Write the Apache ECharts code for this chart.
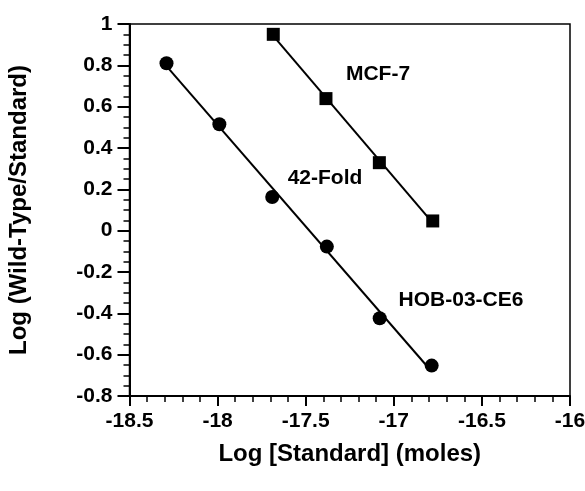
<!DOCTYPE html>
<html>
<head>
<meta charset="utf-8">
<script src="https://cdn.jsdelivr.net/npm/echarts@6/dist/echarts.min.js"></script>
<style>html,body{margin:0;padding:0;background:#fff}#c{width:585px;height:491px}</style>
</head>
<body>
<div id="c"></div>
<script>
// Data
var hobX = [-18.29, -17.99, -17.69, -17.38, -17.08, -16.785];
var hobY = [0.81, 0.515, 0.163, -0.077, -0.424, -0.653];
var mcfX = [-17.684, -17.385, -17.082, -16.779];
var mcfY = [0.95, 0.639, 0.329, 0.047];
var annotations = ['MCF-7', '42-Fold', 'HOB-03-CE6'];
var xTitle = 'Log [Standard] (moles)';
var yTitle = 'Log (Wild-Type/Standard)';

function pairs(xs, ys){ return xs.map(function(x,i){ return [x, ys[i]]; }); }
function fit(xs, ys){
  var n = xs.length, sx=0, sy=0, sxx=0, sxy=0;
  for (var i=0;i<n;i++){ sx+=xs[i]; sy+=ys[i]; sxx+=xs[i]*xs[i]; sxy+=xs[i]*ys[i]; }
  var b = (n*sxy - sx*sy)/(n*sxx - sx*sx);
  var a = (sy - b*sx)/n;
  var x0 = Math.min.apply(null, xs), x1 = Math.max.apply(null, xs);
  return [[x0, a+b*x0],[x1, a+b*x1]];
}

var FONT = '"Liberation Sans", Arial, Helvetica, sans-serif';
var chart = echarts.init(document.getElementById('c'), null, {renderer:'canvas'});
chart.setOption({
  animation: false,
  backgroundColor: '#fff',
  grid: {left: 129.5, top: 24, right: 15, bottom: 95, containLabel: false, outerBoundsMode: 'none',
         show: true, borderColor: '#000', borderWidth: 1.5},
  xAxis: {
    type: 'value', min: -18.5, max: -16, interval: 0.5,
    name: xTitle, nameLocation: 'middle', nameGap: 46,
    nameTextStyle: {fontFamily: FONT, fontWeight: 'bold', fontSize: 24, color: '#000'},
    axisLine: {show: true, onZero: false, lineStyle: {color: '#000', width: 2}},
    axisTick: {show: true, inside: false, length: 10, lineStyle: {color: '#000', width: 2}},
    minorTick: {show: true, splitNumber: 5, length: 6, lineStyle: {color: '#000', width: 1.5}},
    axisLabel: {margin: 15, fontFamily: FONT, fontWeight: 'bold', fontSize: 21, color: '#000'},
    splitLine: {show: false}
  },
  yAxis: {
    type: 'value', min: -0.8, max: 1, interval: 0.2,
    name: yTitle, nameLocation: 'middle', nameGap: 98,
    nameTextStyle: {fontFamily: FONT, fontWeight: 'bold', fontSize: 24, color: '#000'},
    axisLine: {show: true, onZero: false, lineStyle: {color: '#000', width: 2}},
    axisTick: {show: true, inside: false, length: 12, lineStyle: {color: '#000', width: 2}},
    minorTick: {show: true, splitNumber: 4, length: 6, lineStyle: {color: '#000', width: 1.5}},
    axisLabel: {margin: 17, fontFamily: FONT, fontWeight: 'bold', fontSize: 21, color: '#000'},
    splitLine: {show: false}
  },
  series: [
    {type: 'line', data: fit(hobX, hobY), symbol: 'none', lineStyle: {color: '#000', width: 2}, z: 2},
    {type: 'line', data: fit(mcfX, mcfY), symbol: 'none', lineStyle: {color: '#000', width: 2}, z: 2},
    {type: 'scatter', data: pairs(hobX, hobY), symbol: 'circle', symbolSize: 14, itemStyle: {color: '#000', opacity: 1}, z: 3},
    {type: 'scatter', data: pairs(mcfX, mcfY), symbol: 'rect', symbolSize: 13, itemStyle: {color: '#000', opacity: 1}, z: 3}
  ],
  graphic: [
    {type: 'text', x: 378, y: 74, style: {text: annotations[0], font: 'bold 21px ' + FONT, fill: '#000', textAlign: 'center', textVerticalAlign: 'middle'}},
    {type: 'text', x: 325, y: 178, style: {text: annotations[1], font: 'bold 21px ' + FONT, fill: '#000', textAlign: 'center', textVerticalAlign: 'middle'}},
    {type: 'text', x: 461, y: 300, style: {text: annotations[2], font: 'bold 21px ' + FONT, fill: '#000', textAlign: 'center', textVerticalAlign: 'middle'}}
  ]
});
</script>
</body>
</html>
